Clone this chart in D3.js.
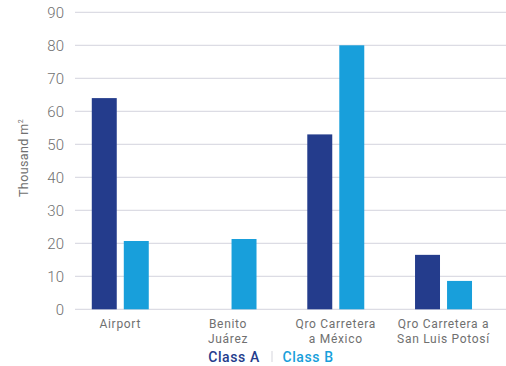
<!DOCTYPE html>
<html>
<head>
<meta charset="utf-8">
<script src="https://cdn.jsdelivr.net/npm/d3@7"></script>
<style>
  html, body { margin: 0; padding: 0; background: #fff; }
  svg { display: block; font-family: "Roboto", "Lato", sans-serif; }
</style>
</head>
<body>
<svg id="chart" width="506" height="366"></svg>
<script>
// Stock by submarket, thousand m²
const categories = ["Airport", "Benito Juárez", "Qro Carretera a México", "Qro Carretera a San Luis Potosí"];
const categoryLines = [["Airport"], ["Benito", "Juárez"], ["Qro Carretera", "a México"], ["Qro Carretera a", "San Luis Potosí"]];
const seriesNames = ["Class A", "Class B"];
const classA = [64, null, 53, 16.5];
const classB = [20.7, 21.3, 80, 8.6];
const yTicks = [0, 10, 20, 30, 40, 50, 60, 70, 80, 90];

const colors = { "Class A": "#243c8c", "Class B": "#189fdb" };
const textGray = "#707070";

const svg = d3.select("#chart");
const plot = { left: 75, right: 506, top: 12.3, bottom: 309.3 };

const y = d3.scaleLinear().domain([0, 90]).range([plot.bottom, plot.top]);

const x0 = d3.scaleBand().domain(categories).range([66.4, 497.4]).paddingInner(0).paddingOuter(0);
const x1 = d3.scaleBand().domain(seriesNames).range([0, x0.bandwidth()])
  .paddingInner(0.22).paddingOuter(0.793);

// grid lines
svg.append("g")
  .selectAll("line")
  .data(yTicks)
  .join("line")
  .attr("x1", plot.left).attr("x2", plot.right)
  .attr("y1", d => y(d)).attr("y2", d => y(d))
  .attr("stroke", "#dcdce4").attr("stroke-width", 1.2);

// y axis labels
const yAxis = d3.axisLeft(y).tickValues(yTicks).tickSize(0).tickPadding(0);
const gy = svg.append("g").attr("transform", "translate(64,0)").call(yAxis);
gy.select(".domain").remove();
gy.selectAll("text")
  .attr("font-size", 15).attr("fill", textGray).attr("font-weight", 300)
  .attr("font-family", "Roboto, sans-serif").attr("dy", "0.36em");

// y title
svg.append("text")
  .attr("transform", "translate(28,158) rotate(-90)")
  .attr("text-anchor", "middle")
  .attr("font-size", 12.5).attr("fill", textGray).attr("letter-spacing", 0.4)
  .text("Thousand m")
  .append("tspan").attr("font-size", 7).attr("dy", -5).text("2");

// bars
const rows = categories.map((c, i) => ({ cat: c, values: [
  { key: "Class A", value: classA[i] },
  { key: "Class B", value: classB[i] }
]}));

svg.append("g")
  .selectAll("g")
  .data(rows)
  .join("g")
  .attr("transform", d => `translate(${x0(d.cat)},0)`)
  .selectAll("rect")
  .data(d => d.values.filter(v => v.value != null))
  .join("rect")
  .attr("x", d => x1(d.key))
  .attr("width", x1.bandwidth())
  .attr("y", d => y(d.value))
  .attr("height", d => y(0) - y(d.value))
  .attr("fill", d => colors[d.key]);

// category labels
const xl = svg.append("g");
categories.forEach((c, i) => {
  const cx = x0(c) + x0.bandwidth() / 2;
  const t = xl.append("text")
    .attr("x", cx)
    .attr("y", 327.5)
    .attr("text-anchor", "middle")
    .attr("font-size", 12).attr("fill", textGray)
    .attr("letter-spacing", 0.7);
  categoryLines[i].forEach((ln, j) => {
    t.append("tspan")
      .attr("x", cx)
      .attr("dy", j === 0 ? 0 : 15)
      .text(ln);
  });
});

// legend
const lg = svg.append("g").attr("font-size", 14).attr("font-weight", 500).attr("letter-spacing", 0.6);
lg.append("text").attr("x", 234).attr("y", 362).attr("text-anchor", "middle")
  .attr("fill", colors["Class A"]).text(seriesNames[0]);
lg.append("line").attr("x1", 272).attr("x2", 272).attr("y1", 351).attr("y2", 362)
  .attr("stroke", "#d5d5dc").attr("stroke-width", 1);
lg.append("text").attr("x", 308).attr("y", 362).attr("text-anchor", "middle")
  .attr("fill", colors["Class B"]).text(seriesNames[1]);
</script>
</body>
</html>
